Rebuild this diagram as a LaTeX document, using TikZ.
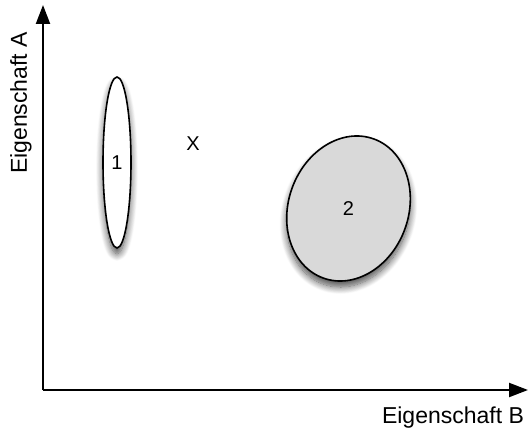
\documentclass[tikz,border=0pt]{standalone}
\usepackage{fontspec}
\setmainfont{Liberation Sans}
\usetikzlibrary{arrows.meta,shapes.geometric,shadows.blur}
\definecolor{clusterfill}{RGB}{217,217,217}
\begin{document}
\begin{tikzpicture}[x=1pt, y=1pt,
    axis/.style={line width=2.2pt, -{Triangle[length=19pt,width=14pt]}},
    cluster/.style={ellipse, draw, line width=1.6pt, inner sep=0pt,
        blur shadow={shadow xshift=0pt, shadow yshift=-6pt, shadow blur steps=12, shadow blur radius=7pt, shadow opacity=70}},
    lbl/.style={font=\fontsize{20}{22}\selectfont}]
    \useasboundingbox (0,0) rectangle (529,436);

    % Axes
    \coordinate (origin) at (43,46);
    \coordinate (ytip) at (43,431);
    \coordinate (xtip) at (528,46);
    \draw[axis] (origin) -- (ytip);
    \draw[axis] (origin) -- (xtip);
    \node[font=\fontsize{23}{25}\selectfont, rotate=90] (labA) at (21,333) {Eigenschaft A};
    \node[font=\fontsize{23}{25}\selectfont] (labB) at (453,18) {Eigenschaft B};

    % Clusters
    \node[cluster, fill=white, minimum width=28pt, minimum height=171pt, lbl] (c1) at (117,273.5) {1};
    \node[cluster, fill=clusterfill, minimum width=120pt, minimum height=148pt, rotate=-20] (c2) at (348.5,227.5) {};
    \node[lbl] (n2) at (c2.center) {2};

    % New sample
    \node[lbl] (x) at (193,292.5) {X};
\end{tikzpicture}
\end{document}
